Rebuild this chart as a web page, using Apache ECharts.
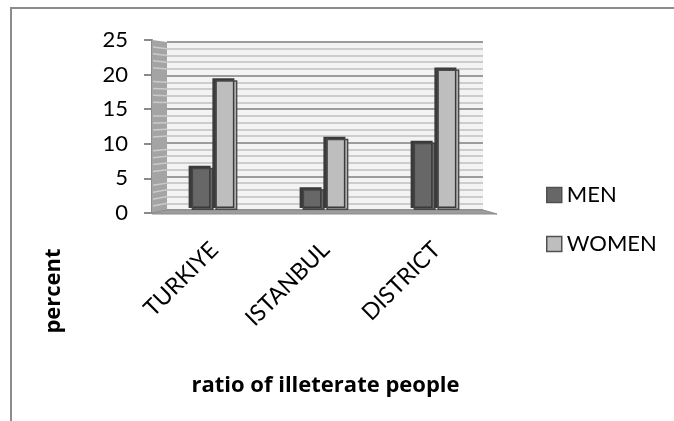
<!DOCTYPE html>
<html>
<head>
<meta charset="utf-8">
<script src="https://cdn.jsdelivr.net/npm/echarts@6/dist/echarts.min.js"></script>
<style>
  html, body { margin: 0; padding: 0; background: #fff; }
  #chart { width: 674px; height: 421px; }
</style>
</head>
<body>
<div id="chart"></div>
<script>
// Illiteracy ratio by gender (percent)
const categories = ['TURKIYE', 'ISTANBUL', 'DISTRICT'];
const menValues = [6.3, 3.1, 10.0];
const womenValues = [19.3, 10.6, 20.9];
const seriesNames = ['MEN', 'WOMEN'];
const yMin = 0, yMax = 25, yStep = 5;

const FONT = 'Lato';
const BOLD_FONT = 'Open Sans';
const chart = echarts.init(document.getElementById('chart'));

// grid 0: bars, grid 1: back wall with stripes, grid 2: front value axis
const option = {
  backgroundColor: '#ffffff',
  animation: false,
  textStyle: { fontFamily: FONT, color: '#000' },
  grid: [
    { left: 159, right: 182, top: 42, bottom: 211 },
    { left: 167, right: 191, top: 42, bottom: 211, show: true, backgroundColor: '#f3f3f3', borderWidth: 0 },
    { left: 152, right: 190, top: 40, bottom: 208 }
  ],
  xAxis: [
    {
      gridIndex: 0, type: 'category', data: categories,
      axisLine: { show: false }, axisTick: { show: false },
      axisLabel: { rotate: 45, margin: 36, fontSize: 23, color: '#000', fontFamily: FONT, interval: 0 },
      name: 'ratio of illeterate people', nameLocation: 'middle', nameGap: 165,
      nameTextStyle: { fontSize: 22, fontWeight: 'bold', color: '#000', fontFamily: BOLD_FONT }
    },
    { gridIndex: 1, type: 'value', show: false, min: 0, max: 1 },
    { gridIndex: 2, type: 'value', show: false, min: 0, max: 1 }
  ],
  yAxis: [
    { gridIndex: 0, type: 'value', min: yMin, max: yMax, interval: yStep, show: false },
    {
      gridIndex: 1, type: 'value', min: yMin, max: yMax, interval: yStep,
      axisLine: { show: false }, axisTick: { show: false }, axisLabel: { show: false },
      splitLine: { show: true, lineStyle: { color: '#9c9c9c', width: 2 } },
      minorTick: { show: false, splitNumber: 5 },
      minorSplitLine: { show: true, lineStyle: { color: '#cdcdcd', width: 2 } }
    },
    {
      gridIndex: 2, type: 'value', min: yMin, max: yMax, interval: yStep,
      axisLine: { show: true, lineStyle: { color: '#8a8a8a', width: 2 } },
      axisTick: { show: true, length: 8, lineStyle: { color: '#8a8a8a', width: 2 } },
      axisLabel: { margin: 24, fontSize: 22, color: '#000', fontFamily: FONT },
      splitLine: { show: false }
    }
  ],
  legend: {
    orient: 'vertical', left: 541, top: 179,
    itemWidth: 15, itemHeight: 15, itemGap: 27,
    icon: 'rect',
    itemStyle: { borderColor: '#505050', borderWidth: 1.5 },
    textStyle: { fontSize: 22, lineHeight: 22, color: '#000', fontFamily: FONT },
    data: seriesNames
  },
  series: [
    {
      name: seriesNames[0], type: 'bar', xAxisIndex: 0, yAxisIndex: 0,
      data: menValues, barWidth: 22, barGap: '8%', z: 3,
      itemStyle: { color: '#676767', borderColor: '#444', borderWidth: 1.5,
        shadowColor: '#3a3a3a', shadowOffsetX: -3, shadowOffsetY: -2, shadowBlur: 0 }
    },
    {
      name: seriesNames[1], type: 'bar', xAxisIndex: 0, yAxisIndex: 0,
      data: womenValues, barWidth: 22, z: 3,
      itemStyle: { color: '#bebebe', borderColor: '#4a4a4a', borderWidth: 1.5,
        shadowColor: '#3a3a3a', shadowOffsetX: -3, shadowOffsetY: -2, shadowBlur: 0 }
    }
  ]
};
chart.setOption(option);

// Side wall, floor and frame drawn from the axis positions
function drawDecor() {
  const front = v => chart.convertToPixel({ gridIndex: 2 }, [0, v]);
  const back = v => chart.convertToPixel({ gridIndex: 1 }, [0, v]);
  const backRight = v => chart.convertToPixel({ gridIndex: 1 }, [1, v]);
  const f0 = front(yMin), fT = front(yMax), b0 = back(yMin), bT = back(yMax);
  const br0 = backRight(yMin);
  const els = [];
  // left side wall
  els.push({ type: 'polygon', z: 1, shape: { points: [f0, fT, bT, b0] }, style: { fill: '#a4a4a4' } });
  for (let v = yMin + 1; v < yMax; v++) {
    if (v % yStep === 0) continue;
    const p = front(v), q = back(v);
    els.push({ type: 'line', z: 1, shape: { x1: p[0] + 1, y1: p[1], x2: q[0], y2: q[1] },
      style: { stroke: '#cbcbcb', lineWidth: 1.5 } });
  }
  // floor
  els.push({ type: 'polygon', z: 1,
    shape: { points: [f0, b0, br0, [br0[0] + 14, f0[1] + 1], [f0[0], f0[1] + 1]] },
    style: { fill: '#9d9d9d', stroke: '#8a8a8a', lineWidth: 1 } });
  // outer frame
  els.push({ type: 'polyline', z: 0, shape: { points: [[11, 421], [11, 8], [674, 8]] },
    style: { stroke: '#8c8c8c', lineWidth: 2, fill: null } });
  // vertical axis title
  els.push({ type: 'text', z: 5, x: 54, y: 291, rotation: Math.PI / 2,
    style: { text: 'percent', font: 'bold 22px "' + BOLD_FONT + '"', fill: '#000', align: 'center', verticalAlign: 'middle' } });
  chart.setOption({ graphic: { elements: els } });
}
drawDecor();
</script>
</body>
</html>
